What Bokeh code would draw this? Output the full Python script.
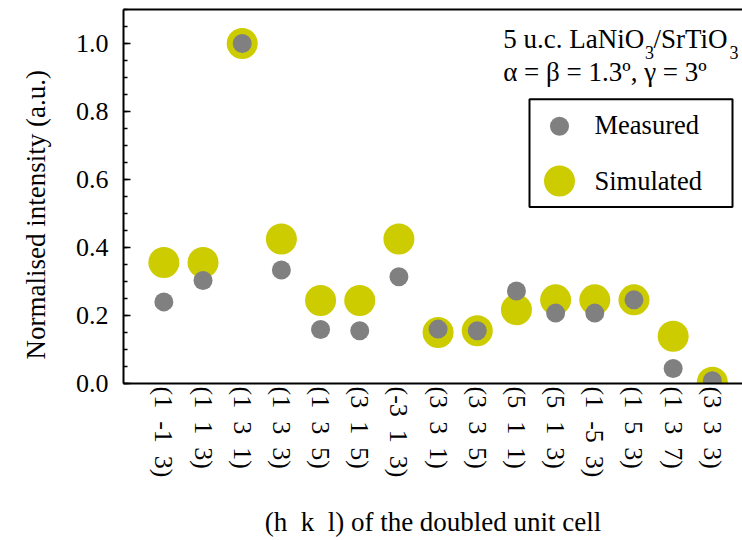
from bokeh.core.properties import value
from bokeh.embed import file_html
from bokeh.models import (FixedTicker, Label, LinearAxis, PrintfTickFormatter,
                          Range1d, SingleIntervalTicker, Title)
from bokeh.plotting import figure
from bokeh.resources import INLINE

SP = "\u00a0\u00a0"  # wide gap between Miller indices

# Reflections, indexed in the doubled unit cell
hkl = [SP.join(t) for t in [
    ("(1", "-1", "3)"), ("(1", "1", "3)"), ("(1", "3", "1)"), ("(1", "3", "3)"),
    ("(1", "3", "5)"), ("(3", "1", "5)"), ("(-3", "1", "3)"), ("(3", "3", "1)"),
    ("(3", "3", "5)"), ("(5", "1", "1)"), ("(5", "1", "3)"), ("(1", "-5", "3)"),
    ("(1", "5", "3)"), ("(1", "3", "7)"), ("(3", "3", "3)")]]

# Normalised intensities
measured = [0.240, 0.303, 1.000, 0.334, 0.159, 0.155, 0.314, 0.160,
            0.155, 0.272, 0.207, 0.207, 0.246, 0.044, 0.008]
simulated = [0.356, 0.356, 1.000, 0.425, 0.244, 0.244, 0.425, 0.150,
             0.155, 0.217, 0.246, 0.246, 0.246, 0.139, 0.004]

legend_labels = ["Measured", "Simulated"]

FONT = "Liberation Serif"
GRAY = "#808080"
YELLOW = "#cccc00"

positions = list(range(len(hkl)))

p = figure(width=742, height=540,
           x_range=Range1d(-1.03, 14.77), y_range=Range1d(0, 1.1),
           output_backend="svg", toolbar_location=None,
           min_border_left=123, min_border_right=0,
           min_border_top=9, min_border_bottom=156)
p.outline_line_color = None
p.grid.visible = False

# pixel-space coordinates for the legend and annotation text
p.extra_x_ranges = {"px": Range1d(123, 742)}
p.extra_y_ranges = {"px": Range1d(384, 9)}

# x axis: one vertical label per reflection, no tick marks
xa = p.xaxis[0]
xa.ticker = FixedTicker(ticks=positions, minor_ticks=[])
xa.major_label_overrides = {i: lab for i, lab in zip(positions, hkl)}
xa.major_label_orientation = "vertical"
xa.major_tick_line_color = None
xa.minor_tick_line_color = None
xa.major_tick_out = 0
xa.axis_line_width = 2
xa.axis_line_color = "black"
xa.major_label_standoff = 3
xa.major_label_text_font = FONT
xa.major_label_text_font_size = "26px"
xa.major_label_text_color = "black"
xa.axis_label = "(h" + SP + "k" + SP + "l) of the doubled unit cell"
xa.axis_label_standoff = 27
xa.axis_label_text_font = FONT
xa.axis_label_text_font_size = "27px"
xa.axis_label_text_font_style = "normal"
xa.axis_label_text_color = "black"

# y axis: inward ticks, minor every 0.05
ya = p.yaxis[0]
ya.ticker = SingleIntervalTicker(interval=0.2, num_minor_ticks=4)
ya.formatter = PrintfTickFormatter(format="%.1f")
ya.axis_line_width = 2
ya.axis_line_color = "black"
ya.major_tick_in = 7
ya.major_tick_out = 0
ya.minor_tick_in = 4
ya.minor_tick_out = 0
ya.major_tick_line_width = 1.5
ya.minor_tick_line_width = 1.5
ya.major_tick_line_color = "black"
ya.minor_tick_line_color = "black"
ya.major_label_standoff = 15
ya.major_label_text_font = FONT
ya.major_label_text_font_size = "26px"
ya.major_label_text_color = "black"

# y title, set in the left margin
p.add_layout(Title(text="Normalised intensity (a.u.)", align="left", offset=24,
                   vertical_align="top", standoff=40,
                   text_font=FONT, text_font_size="27px",
                   text_font_style="normal", text_color="black"), "left")

# top frame line
top = LinearAxis(ticker=FixedTicker(ticks=[], minor_ticks=[]),
                 axis_line_width=2, axis_line_color="black",
                 major_tick_in=0, major_tick_out=0,
                 minor_tick_in=0, minor_tick_out=0,
                 major_label_standoff=0, major_label_text_font_size="0px")
p.add_layout(top, "above")

# data points: simulated underneath, measured on top
p.scatter(positions, simulated, size=31, fill_color=YELLOW, line_color=None)
p.scatter(positions, measured, size=19, fill_color=GRAY, line_color=None)

# legend box
p.quad(left=[529], right=[732], top=[99], bottom=[207],
       fill_color="white", line_color="black", line_width=2,
       x_range_name="px", y_range_name="px")
p.scatter([559, 559], [126, 181], size=[19, 31], fill_color=[GRAY, YELLOW],
          line_color=None, x_range_name="px", y_range_name="px")
p.text([594, 594], [125, 181], text=legend_labels,
       text_font=value(FONT), text_font_size="26.5px",
       text_baseline="alphabetic", text_color="black",
       x_range_name="px", y_range_name="px")

# sample annotation
def add_text(x, y, txt, size="27px", **kw):
    p.add_layout(Label(x=x, y=y, text=txt, text_font=FONT, text_font_size=size,
                       text_baseline="alphabetic", text_color="black",
                       x_range_name="px", y_range_name="px", **kw))

add_text(502.7, 39, "5 u.c. LaNiO")
add_text(644.5, 52, "3", size="18px")
add_text(653, 39, "/SrTiO")
add_text(729, 52, "3", size="18px")
add_text(502.7, 72, "α = β = 1.3º, γ = 3º")

open("out.html", "w").write(file_html(p, INLINE))
